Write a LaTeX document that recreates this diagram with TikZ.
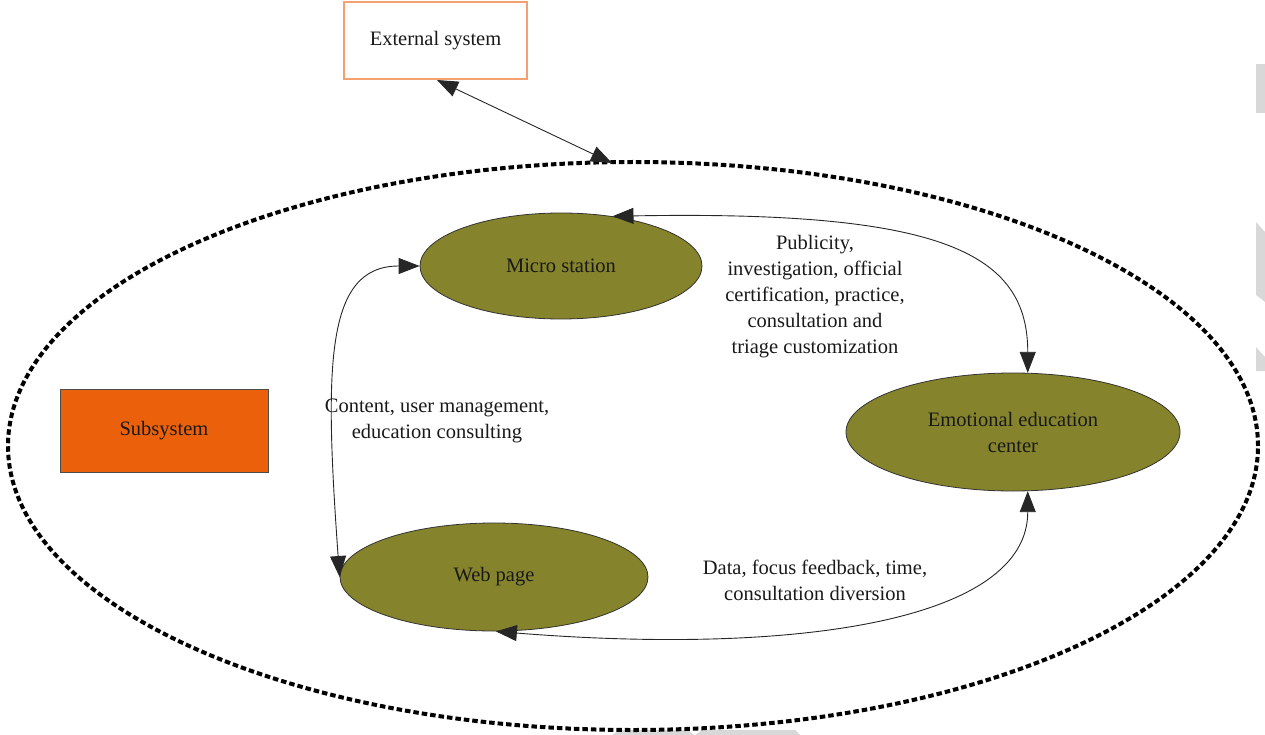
\documentclass[tikz,border=0pt]{standalone}
\usepackage{fontspec}
\setmainfont{Liberation Serif}
\usetikzlibrary{shapes.geometric,arrows.meta}
\definecolor{olivefill}{RGB}{133,131,43}
\definecolor{subfill}{RGB}{235,96,10}
\definecolor{extborder}{RGB}{244,160,112}
\definecolor{tabgray}{RGB}{216,216,216}
\tikzset{
  every node/.style={font=\fontsize{20.5}{26}\selectfont, text=black!90},
  blob/.style={ellipse, draw=black!80, line width=0.8pt, fill=olivefill, inner sep=0pt},
  extbox/.style={rectangle, draw=extborder, line width=1.2pt, fill=white,
    minimum width=183pt, minimum height=77pt},
  subbox/.style={rectangle, draw=black!70, line width=1pt, fill=subfill,
    minimum width=208pt, minimum height=83pt},
  boundary/.style={draw=black, line width=4pt, dash pattern=on 5.5pt off 3pt},
  biarrow/.style={draw=black!85, line width=0.9pt,
    {Triangle[length=21pt,width=16pt]}-{Triangle[length=21pt,width=16pt]}},
  note/.style={align=center}
}
\begin{document}
\begin{tikzpicture}[x=1pt,y=-1pt]
  \useasboundingbox (0,0) rectangle (1265,735);
  % page tabs at the edges
  \fill[tabgray] (1256,64) rectangle (1265,113);
  \fill[tabgray] (1256,222) -- (1265,232) -- (1265,302) -- (1256,295) -- cycle;
  \fill[tabgray] (1256,347) -- (1265,357) -- (1265,371) -- (1256,371) -- cycle;
  \fill[tabgray] (612,735) -- (620,730) -- (688,730) -- (694,735) -- cycle;
  \fill[tabgray] (695,735) -- (702,730) -- (795,730) -- (800,735) -- cycle;

  % system boundary
  \node[ellipse, boundary, minimum width=1250pt, minimum height=568pt, inner sep=0pt]
    (sys) at (633,446) {};

  % nodes
  \node[extbox] (ext) at (435.5,40.5) {External system};
  \node[subbox] (sub) at (164,430.5) {Subsystem};
  \node[blob, minimum width=282pt, minimum height=106pt] (micro) at (561,266) {Micro station};
  \node[blob, minimum width=334pt, minimum height=118pt, align=center] (emo) at (1013,432)
    {Emotional education\\center};
  \node[blob, minimum width=308pt, minimum height=108pt] (web) at (494,577) {Web page};

  % connectors
  \draw[biarrow] (437,80) coordinate (extfoot) -- (612,163) coordinate (systop);
  \draw[biarrow] (micro.44) .. controls +(330,-6) and +(0,-120) .. (emo.76);
  \draw[biarrow] (micro.west) .. controls +(-95,0) and +(-15,-210) .. (web.west);
  \draw[biarrow] (web.272) .. controls +(300,24) and +(0,130) .. (emo.284);

  % labels
  \node[note] (lab1) at (815,297) {Publicity,\\investigation, official\\certification, practice,\\consultation and\\triage customization};
  \node[note] (lab2) at (437,421) {Content, user management,\\education consulting};
  \node[note] (lab3) at (815,580) {Data, focus feedback, time,\\consultation diversion};
\end{tikzpicture}
\end{document}
